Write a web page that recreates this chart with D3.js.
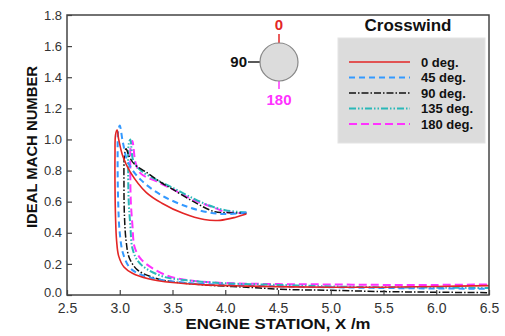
<!DOCTYPE html>
<html><head><meta charset="utf-8">
<script src="https://cdn.jsdelivr.net/npm/d3@7"></script>
<style>body{margin:0;background:#fff}svg{display:block;font-family:Arial,"Liberation Sans",sans-serif}</style>
</head><body><svg id="c" width="505" height="336"></svg>
<script>
const xTicks = [2.5,3.0,3.5,4.0,4.5,5.0,5.5,6.0,6.5];
const yTicks = [0,0.2,0.4,0.6,0.8,1.0,1.2,1.4,1.6,1.8];
const seriesNames = ["0 deg.","45 deg.","90 deg.","135 deg.","180 deg."];
const red0 = [[4.2,0.52],[4.1,0.5],[3.95,0.48],[3.8,0.485],[3.6,0.525],[3.4,0.59],[3.25,0.66],[3.1,0.79],[3.03,0.89],[2.99,1.0],[2.975,1.06],[2.96,1.03],[2.955,0.9],[2.955,0.7],[2.96,0.5],[2.97,0.35],[2.99,0.25],[3.04,0.18],[3.12,0.14],[3.27,0.105],[3.5,0.08],[3.8,0.065],[4.2,0.057],[5.0,0.05],[5.5,0.05],[6.0,0.055],[6.5,0.06]];
const blue45 = [[4.2,0.53],[4.0,0.52],[3.85,0.53],[3.65,0.565],[3.4,0.64],[3.2,0.74],[3.08,0.85],[3.03,0.98],[3.0,1.09],[2.985,1.05],[2.98,0.9],[2.985,0.6],[3.0,0.4],[3.03,0.27],[3.09,0.18],[3.17,0.14],[3.33,0.105],[3.6,0.08],[4.0,0.065],[4.5,0.055],[5.0,0.05],[5.5,0.045],[6.0,0.042],[6.5,0.04]];
const black90 = [[4.2,0.525],[4.0,0.53],[3.9,0.535],[3.7,0.6],[3.5,0.68],[3.4,0.72],[3.25,0.79],[3.14,0.84],[3.09,0.89],[3.06,0.94],[3.045,0.9],[3.04,0.7],[3.045,0.5],[3.06,0.35],[3.09,0.24],[3.17,0.16],[3.33,0.11],[3.5,0.085],[3.8,0.065],[4.2,0.05],[4.6,0.035],[5.0,0.03],[5.5,0.022],[6.0,0.018],[6.5,0.015]];
const teal135 = [[4.2,0.53],[4.0,0.545],[3.85,0.575],[3.7,0.62],[3.5,0.69],[3.35,0.74],[3.2,0.8],[3.13,0.86],[3.11,0.95],[3.1,1.0],[3.085,0.97],[3.08,0.8],[3.085,0.6],[3.1,0.45],[3.12,0.3],[3.17,0.22],[3.25,0.17],[3.43,0.115],[3.7,0.09],[4.0,0.075],[4.5,0.065],[5.0,0.055],[5.5,0.05],[6.0,0.047],[6.5,0.045]];
const mag180 = [[4.2,0.525],[4.0,0.535],[3.9,0.56],[3.7,0.61],[3.5,0.68],[3.35,0.73],[3.2,0.78],[3.15,0.85],[3.13,0.95],[3.12,0.99],[3.105,0.96],[3.1,0.8],[3.105,0.6],[3.12,0.45],[3.14,0.31],[3.19,0.24],[3.25,0.2],[3.43,0.13],[3.6,0.1],[3.9,0.08],[4.5,0.07],[5.0,0.068],[5.5,0.065],[6.0,0.065],[6.5,0.068]];

const svg = d3.select("#c");
const L=67,R=489,T=15,B=295;
const x = d3.scaleLinear().domain([2.5,6.5]).range([L,R]);
const y = d3.scaleLinear().domain([0,1.8]).range([B,T]);
const styles = [
  {c:"#e32626",w:1.6,d:null},
  {c:"#3399ff",w:2,d:"6,4"},
  {c:"#111111",w:1.5,d:"7,2,1.5,2"},
  {c:"#2ab8b8",w:2,d:"7,2,1.5,2,1.5,2"},
  {c:"#ff33ff",w:2,d:"8,4"}
];
const data = [red0,blue45,black90,teal135,mag180];
const clip = svg.append("clipPath").attr("id","pc").append("rect").attr("x",L).attr("y",T).attr("width",R-L).attr("height",B-T);
const line = d3.line().x(d=>x(d[0])).y(d=>y(d[1])).curve(d3.curveCatmullRom.alpha(0.5));
const g = svg.append("g").attr("clip-path","url(#pc)");
[4,3,2,1,0].forEach(i=>{
  g.append("path").attr("d",line(data[i])).attr("fill","none").attr("stroke",styles[i].c)
   .attr("stroke-width",styles[i].w).attr("stroke-dasharray",styles[i].d);
});
// frame
svg.append("rect").attr("x",L).attr("y",T).attr("width",R-L).attr("height",B-T).attr("fill","none").attr("stroke","#444").attr("stroke-width",1.5);
// axes with inward ticks
const xa = svg.append("g").attr("transform",`translate(0,${B})`).call(d3.axisBottom(x).tickValues(xTicks).tickFormat(d3.format(".1f")).tickSizeInner(-5).tickSizeOuter(0).tickPadding(8));
const ya = svg.append("g").attr("transform",`translate(${L},0)`).call(d3.axisLeft(y).tickValues(yTicks).tickFormat(d3.format(".1f")).tickSizeInner(-5).tickSizeOuter(0).tickPadding(5));
[xa,ya].forEach(a=>{a.select(".domain").remove();a.selectAll("line").attr("stroke","#444").attr("stroke-width",1.2);a.selectAll("text").attr("fill","#333").attr("font-family","Arial, 'Liberation Sans', sans-serif");});
xa.selectAll("text").attr("font-size",14);
ya.selectAll("text").attr("font-size",13);
ya.selectAll("text").filter(d=>d===0).attr("dy","0.1em");
// axis titles
svg.append("text").attr("x",(L+R)/2).attr("y",329).attr("text-anchor","middle").attr("font-weight","bold").attr("font-size",15).attr("fill","#111").attr("textLength",185).attr("lengthAdjust","spacingAndGlyphs").text("ENGINE STATION, X /m");
svg.append("text").attr("transform","translate(37,147) rotate(-90)").attr("text-anchor","middle").attr("font-weight","bold").attr("font-size",15).attr("fill","#111").attr("textLength",162).attr("lengthAdjust","spacingAndGlyphs").text("IDEAL MACH NUMBER");
// inset circle
const cx=279, cy=62, r=19;
svg.append("line").attr("x1",cx).attr("x2",cx).attr("y1",cy-r-9).attr("y2",cy-r).attr("stroke","#e32626").attr("stroke-width",1.5);
svg.append("line").attr("x1",cx-r-12).attr("x2",cx-r).attr("y1",cy).attr("y2",cy).attr("stroke","#222").attr("stroke-width",1.5);
svg.append("line").attr("x1",cx).attr("x2",cx).attr("y1",cy+r).attr("y2",cy+r+8).attr("stroke","#ff33ff").attr("stroke-width",1.5);
svg.append("circle").attr("cx",cx).attr("cy",cy).attr("r",r).attr("fill","#dcdcdc").attr("stroke","#888").attr("stroke-width",1.2);
svg.append("text").attr("x",cx).attr("y",30).attr("text-anchor","middle").attr("font-weight","bold").attr("font-size",15).attr("fill","#e32626").text("0");
svg.append("text").attr("x",cx-r-13).attr("y",cy+5).attr("text-anchor","end").attr("font-weight","bold").attr("font-size",15).attr("fill","#111").text("90");
svg.append("text").attr("x",cx).attr("y",105).attr("text-anchor","middle").attr("font-weight","bold").attr("font-size",15).attr("fill","#ff33ff").text("180");
// legend
svg.append("text").attr("x",408).attr("y",31).attr("text-anchor","middle").attr("font-weight","bold").attr("font-size",17).attr("fill","#111").text("Crosswind");
svg.append("rect").attr("x",338).attr("y",38).attr("width",147).attr("height",105).attr("fill","#dcdcdc").attr("stroke","#e4e4e4");
seriesNames.forEach((n,i)=>{
  const ly = 62 + i*15.5;
  svg.append("line").attr("x1",349).attr("x2",410).attr("y1",ly).attr("y2",ly).attr("stroke",styles[i].c).attr("stroke-width",styles[i].w).attr("stroke-dasharray",styles[i].d);
  svg.append("text").attr("x",421).attr("y",ly+4.5).attr("font-weight","bold").attr("font-size",13).attr("fill","#111").text(n);
});
</script></body></html>
